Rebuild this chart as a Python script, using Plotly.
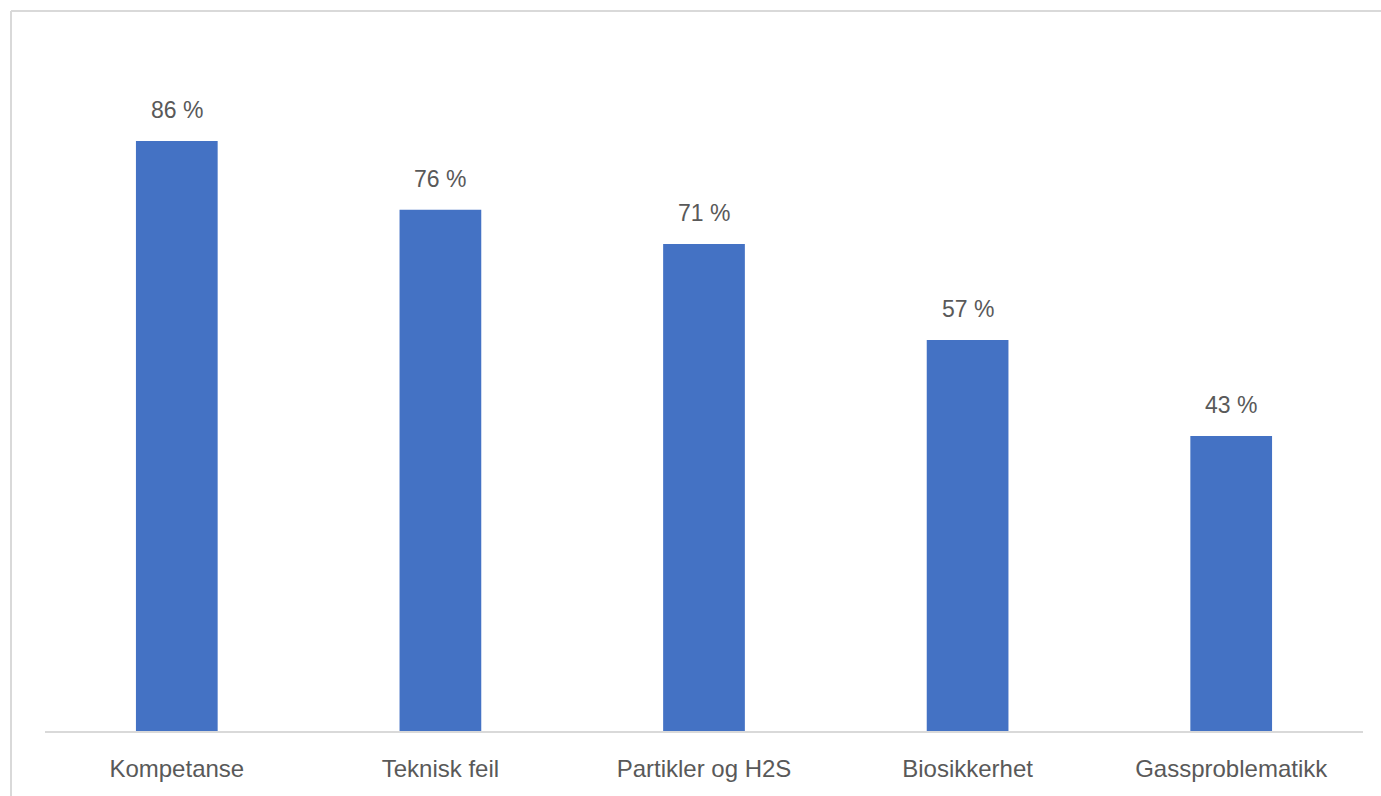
import plotly.graph_objects as go

categories = ["Kompetanse", "Teknisk feil", "Partikler og H2S", "Biosikkerhet", "Gassproblematikk"]
values = [86, 76, 71, 57, 43]
value_labels = ["86 %", "76 %", "71 %", "57 %", "43 %"]

W, H = 1381, 796
ML, MR, MT, MB = 45, 18, 45, 65
pw = W - ML - MR
ph = H - MT - MB

font_family = "Liberation Sans, Arial, sans-serif"
text_color = "#595959"

fig = go.Figure()
fig.add_trace(go.Bar(
    x=categories, y=values,
    marker=dict(color="#4472C4", line=dict(width=0)),
    hoverinfo="skip",
))

for c, v, t in zip(categories, values, value_labels):
    fig.add_annotation(x=c, y=v, text=t, showarrow=False, yanchor="bottom",
                       yshift=16, font=dict(family=font_family, size=23, color=text_color))

# outer chart border (left and top)
x_left = (11 - ML) / pw
y_top = 1 + (MT - 11) / ph
fig.add_shape(type="line", xref="paper", yref="paper", x0=x_left, x1=1 + (MR + 5) / pw,
              y0=y_top, y1=y_top, line=dict(color="#D9D9D9", width=2))
fig.add_shape(type="line", xref="paper", yref="paper", x0=x_left, x1=x_left,
              y0=y_top, y1=-(MB + 5) / ph, line=dict(color="#D9D9D9", width=2))

fig.update_layout(
    width=W, height=H,
    margin=dict(l=ML, r=MR, t=MT, b=MB),
    paper_bgcolor="white", plot_bgcolor="white",
    bargap=0.69,
    showlegend=False,
    font=dict(family=font_family, size=23, color=text_color),
)
fig.update_xaxes(showline=True, linecolor="#D9D9D9", linewidth=2, ticks="",
                 showgrid=False, ticklabelstandoff=15,
                 tickfont=dict(family=font_family, size=24, color=text_color))
fig.update_yaxes(range=[0, 100], visible=False, showgrid=False, zeroline=False)

fig.write_html("out.html")
